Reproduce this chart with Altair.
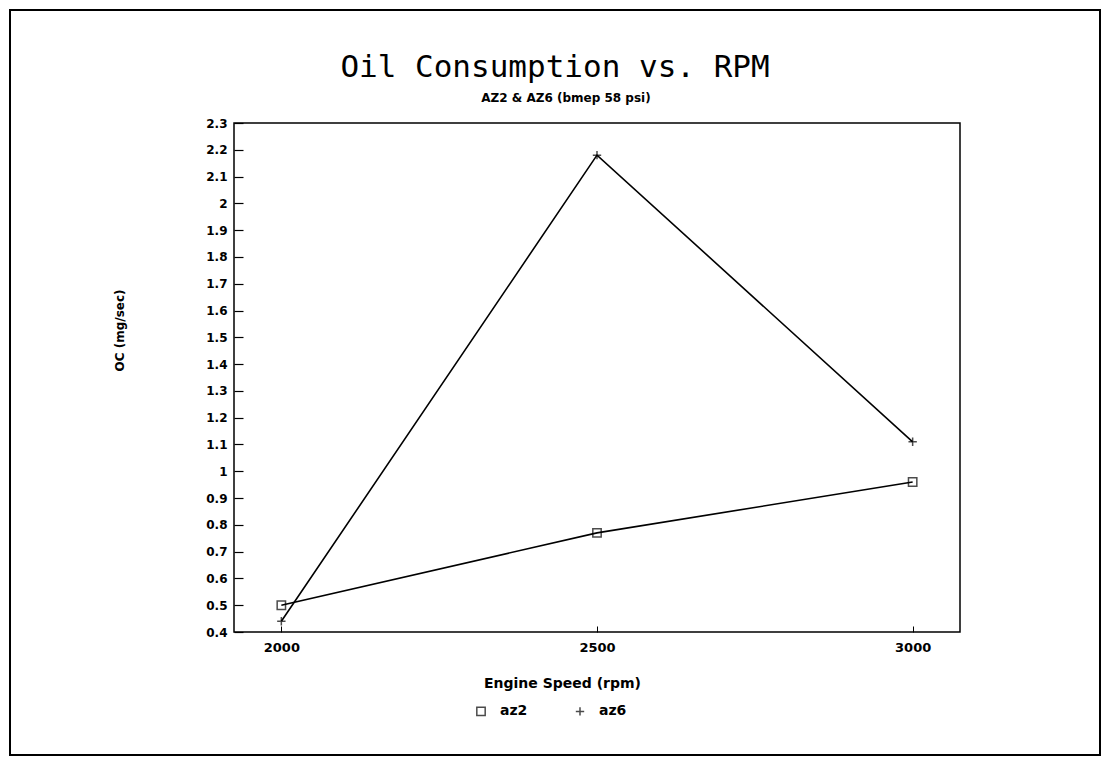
import altair as alt
import pandas as pd

rpm = [2000, 2500, 3000]
az2 = [0.50, 0.77, 0.96]
az6 = [0.44, 2.18, 1.11]
series_names = ["az2", "az6"]
y_ticks = [0.4, 0.5, 0.6, 0.7, 0.8, 0.9, 1.0, 1.1, 1.2, 1.3, 1.4, 1.5,
           1.6, 1.7, 1.8, 1.9, 2.0, 2.1, 2.2, 2.3]
x_ticks = [2000, 2500, 3000]
title_text = "Oil Consumption vs. RPM"
subtitle_text = "AZ2 & AZ6 (bmep 58 psi)"

df = pd.DataFrame({
    "rpm": rpm * 2,
    "oc": az2 + az6,
    "series": [series_names[0]] * 3 + [series_names[1]] * 3,
})

W, H = 726, 509
FONT = "DejaVu Sans"
plus_path = "M-1,0H1M0,-1V1"

xs = alt.Scale(domain=[1925, 3075], nice=False, zero=False)
ys = alt.Scale(domain=[0.4, 2.3], nice=False, zero=False)

base = alt.Chart(df)

lines = base.mark_line(color="black", strokeWidth=1.6).encode(
    x=alt.X("rpm:Q", scale=xs,
            axis=alt.Axis(values=x_ticks, format="d", ticks=False, domain=False, grid=False,
                          labelFont=FONT, labelFontWeight="bold", labelFontSize=13,
                          labelPadding=9, labelColor="black",
                          title="Engine Speed (rpm)", titleFont=FONT, titleFontWeight="bold",
                          titleFontSize=14, titleColor="black",
                          titleX=328, titleY=51, titleAlign="center", titleBaseline="middle")),
    y=alt.Y("oc:Q", scale=ys,
            axis=alt.Axis(values=y_ticks, format=".2~g", ticks=False, domain=False, grid=False,
                          labelFont=FONT, labelFontWeight="bold", labelFontSize=12,
                          labelPadding=7, labelColor="black",
                          title="OC (mg/sec)", titleFont=FONT, titleFontWeight="bold",
                          titleFontSize=12, titleColor="black",
                          titleX=-115, titleY=207, titleAlign="center", titleBaseline="middle")),
    detail="series:N",
)

points = base.mark_point(filled=False, color="black", size=70, strokeWidth=1.5).encode(
    x=alt.X("rpm:Q", scale=xs, axis=None),
    y=alt.Y("oc:Q", scale=ys, axis=None),
    shape=alt.Shape("series:N",
                    scale=alt.Scale(domain=series_names, range=["square", plus_path]),
                    legend=alt.Legend(orient="none", direction="horizontal", title=None,
                                      legendX=240, legendY=581, labelFont=FONT,
                                      labelFontWeight="bold", labelFontSize=14,
                                      labelColor="black", symbolStrokeColor="black",
                                      symbolStrokeWidth=1.5, symbolSize=70,
                                      symbolFillColor="transparent",
                                      columnPadding=44, labelOffset=12)),
)

ticks = base.mark_point(opacity=0).encode(
    x=alt.X("rpm:Q", scale=xs,
            axis=alt.Axis(orient="top", offset=-H, values=x_ticks, labels=False, domain=False,
                          grid=False, tickSize=6, tickColor="black", tickWidth=1, title=None)),
    y=alt.Y("oc:Q", scale=ys,
            axis=alt.Axis(orient="right", offset=-W, values=y_ticks, labels=False, domain=False,
                          grid=False, tickSize=9, tickColor="black", tickWidth=1.2, title=None)),
)

tdf = pd.DataFrame({"t": [title_text], "s": [subtitle_text]})
title_mark = alt.Chart(tdf).mark_text(
    font="DejaVu Sans Mono", fontSize=31, color="black", align="center", baseline="middle"
).encode(text="t:N", x=alt.value(321), y=alt.value(-55))
subtitle_mark = alt.Chart(tdf).mark_text(
    font=FONT, fontSize=12, fontWeight="bold", color="black", align="center", baseline="middle"
).encode(text="s:N", x=alt.value(332), y=alt.value(-25))

frame = alt.Chart(pd.DataFrame({"a": [0]})).mark_rect(
    fill="transparent", stroke="black", strokeWidth=2
).encode(
    x=alt.value(-224), x2=alt.value(W + 140),
    y=alt.value(-113), y2=alt.value(H + 123),
)

chart = alt.layer(lines, points, ticks, title_mark, subtitle_mark, frame).resolve_axis(
    x="independent", y="independent"
).properties(
    width=W, height=H,
    padding={"left": 226, "top": 115, "right": 142, "bottom": 125},
    autosize=alt.AutoSizeParams(type="none"),
).configure(
    background="white",
    view=alt.ViewConfig(stroke="black", strokeWidth=1.5),
)

chart.save("out.html", embed_options={"renderer": "svg", "actions": False})
